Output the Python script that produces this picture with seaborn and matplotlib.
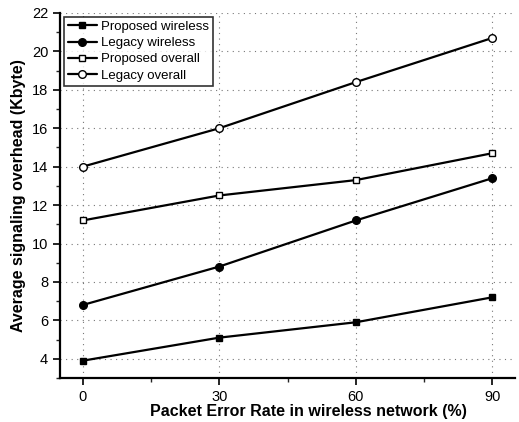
import pandas as pd
import seaborn as sns
import matplotlib.pyplot as plt
from matplotlib.ticker import MultipleLocator

per = [0, 30, 60, 90]
proposed_wireless = [3.9, 5.1, 5.9, 7.2]
legacy_wireless = [6.8, 8.8, 11.2, 13.4]
proposed_overall = [11.2, 12.5, 13.3, 14.7]
legacy_overall = [14.0, 16.0, 18.4, 20.7]

series = {
    'Proposed wireless': proposed_wireless,
    'Legacy wireless': legacy_wireless,
    'Proposed overall': proposed_overall,
    'Legacy overall': legacy_overall,
}
styles = {
    'Proposed wireless': dict(marker='s', mfc='black', ms=5),
    'Legacy wireless': dict(marker='o', mfc='black', ms=5.5),
    'Proposed overall': dict(marker='s', mfc='white', ms=5),
    'Legacy overall': dict(marker='o', mfc='white', ms=5.5),
}

sns.set_style('white')
plt.rcParams['font.family'] = ['Liberation Sans Narrow', 'Liberation Sans', 'DejaVu Sans']
plt.rcParams['text.color'] = 'black'
plt.rcParams['axes.labelcolor'] = 'black'

fig = plt.figure(figsize=(5.19, 4.22), dpi=100)
ax = fig.add_axes([0.1156, 0.1043, 0.877, 0.865])

for name, vals in series.items():
    df = pd.DataFrame({'per': per, 'val': vals})
    sns.lineplot(data=df, x='per', y='val', ax=ax, color='black', linewidth=1.6,
                 mec='black', mew=1.0, label=name, **styles[name])

ax.set_xlim(-5, 95)
ax.set_ylim(3, 22)
ax.xaxis.set_major_locator(MultipleLocator(30))
ax.xaxis.set_minor_locator(MultipleLocator(15))
ax.yaxis.set_minor_locator(MultipleLocator(1))
ax.set_yticks(range(4, 23, 2))
ax.grid(True, which='major', linestyle=(0, (1, 4)), color='#777777', linewidth=0.8)
ax.tick_params(which='major', direction='out', length=5, width=1.2, labelsize=10.5, colors='black')
ax.tick_params(which='minor', direction='out', length=3, width=1.0, left=True, bottom=True)
ax.tick_params(left=True, bottom=True)
sns.despine(ax=ax, top=True, right=True)
for s in ['left', 'bottom']:
    ax.spines[s].set_color('black')
    ax.spines[s].set_linewidth(1.6)

ax.set_xlabel('Packet Error Rate in wireless network (%)', fontsize=11.5, fontweight='bold',
              family=['Liberation Sans', 'DejaVu Sans'])
ax.xaxis.set_label_coords(0.545, -0.072)
ax.set_ylabel('Average signaling overhead (Kbyte)', fontsize=11.5, fontweight='bold',
              family=['Liberation Sans', 'DejaVu Sans'], labelpad=4)

leg = ax.legend(loc='upper left', fontsize=9.5, frameon=True, fancybox=False,
                handlelength=2.2, handletextpad=0.3, borderpad=0.3, labelspacing=0.3,
                borderaxespad=0.3)
leg.get_frame().set_edgecolor('black')
leg.get_frame().set_linewidth(1.2)

fig.savefig('out.png', dpi=100)
